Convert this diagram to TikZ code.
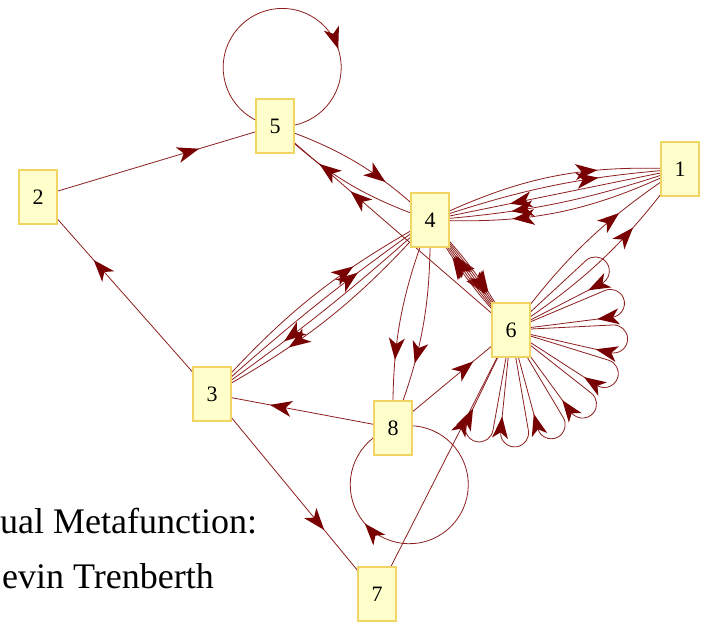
\documentclass[tikz,border=0pt]{standalone}
\usepackage{fontspec}
\setmainfont{Liberation Serif}
\usetikzlibrary{decorations.markings,backgrounds}

\definecolor{edgeline}{RGB}{140,30,30}
\definecolor{edgehead}{RGB}{120,0,0}
\definecolor{vfill}{RGB}{255,255,204}
\definecolor{vborder}{RGB}{240,212,100}

\tikzset{
  vertex/.style={draw=vborder, fill=vfill, line width=2pt,
    minimum width=38pt, minimum height=54pt, inner sep=0pt,
    font=\fontsize{22}{22}\selectfont},
  edge/.style={draw=edgeline, line width=0.8pt},
  % filled, notched head placed with its tip on the marked point
  headat/.style={postaction={decorate, decoration={markings,
    mark=at position #1 with {\fill[edgehead] (0pt,0pt) -- (-22pt,8pt) -- (-16pt,0pt) -- (-22pt,-8pt) -- cycle;}}}},
  arcedge/.style={edge, headat=0.68},
  loopedge/.style={edge, headat=0.655},
}

\begin{document}
\begin{tikzpicture}[x=1pt,y=1pt]
\useasboundingbox (0,0) rectangle (710,623);
\clip (0,0) rectangle (710,623);

% caption lines
\node[anchor=base west, inner sep=0pt, font=\fontsize{36}{36}\selectfont] (cap1) at (0,89) {ual Metafunction:};
\node[anchor=base west, inner sep=0pt, font=\fontsize{36}{36}\selectfont] (cap2) at (2,34) {evin Trenberth};

% vertices
\node[vertex] (v1) at (680,454) {1};
\node[vertex] (v2) at (38,426) {2};
\node[vertex] (v3) at (212,229) {3};
\node[vertex] (v4) at (430,403) {4};
\node[vertex] (v5) at (275,497) {5};
\node[vertex] (v6) at (511,293) {6};
\node[vertex] (v7) at (377,29) {7};
\node[vertex] (v8) at (393,195) {8};

\begin{scope}[on background layer]
  % self-loops of 5 and 8
  \draw[arcedge] (v5.center) arc[start angle=263, end angle=-97, radius=59pt];
  \draw[arcedge] (v8.center) arc[start angle=106, end angle=-254, radius=59pt];

  % single edges
  \draw[arcedge] (v2.center) -- (v5.center);
  \draw[arcedge] (v3.center) -- (v2.center);
  \draw[arcedge] (v6.center) -- (v5.center);
  \draw[arcedge] (v8.center) -- (v3.center);
  \draw[arcedge] (v3.center) -- (v7.center);
  \draw[arcedge] (v7.center) -- (v6.center);
  \draw[arcedge] (v8.center) -- (v6.center);

  % 5 <-> 4
  \draw[arcedge] (v5.center) to[bend left=12] (v4.center);
  \draw[arcedge] (v4.center) to[bend left=12] (v5.center);

  % 4 <-> 1
  \foreach \b in {14,7} \draw[arcedge] (v4.center) to[bend left=\b] (v1.center);
  \foreach \b in {0,7,14} \draw[arcedge] (v1.center) to[bend left=\b] (v4.center);

  % 4 <-> 3
  \foreach \b in {3.2,9.5} {
    \draw[arcedge] (v4.center) to[bend left=\b] (v3.center);
    \draw[arcedge] (v3.center) to[bend left=\b] (v4.center);
  }

  % 4 -> 8
  \draw[arcedge] (v4.center) to[bend left=11] (v8.center);
  \draw[arcedge] (v4.center) to[bend right=11] (v8.center);

  % 4 <-> 6
  \foreach \b in {1.4,4.2,7} {
    \draw[arcedge] (v4.center) to[bend left=\b] (v6.center);
    \draw[arcedge] (v6.center) to[bend left=\b] (v4.center);
  }

  % 6 -> 1
  \draw[arcedge] (v6.center) to[bend left=10] (v1.center);
  \draw[arcedge] (v6.center) to[bend right=10] (v1.center);

  % fan of self-loops of 6
  \foreach \t in {35,15,-5,-25,-46,-67,-88,-108}
    \draw[loopedge] (v6.center) -- ++({\t+7.81}:102.04pt)
      arc[start angle={\t+97.81}, end angle={\t-97.81}, radius=14pt] -- (v6.center);
\end{scope}
\end{tikzpicture}
\end{document}
